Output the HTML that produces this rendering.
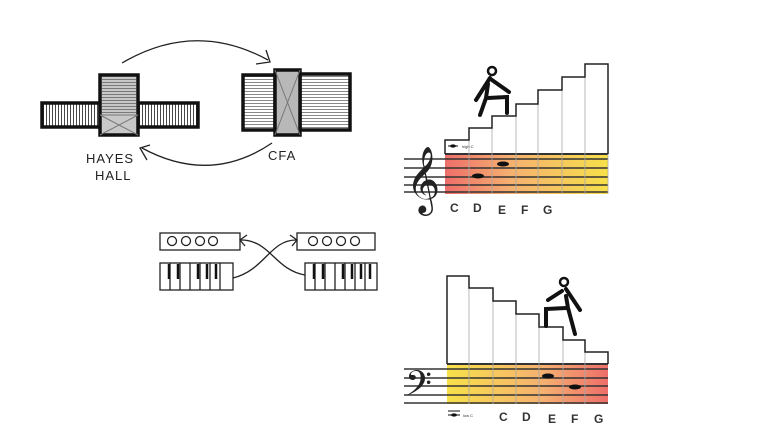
<!DOCTYPE html>
<html><head><style>html,body{margin:0;padding:0;background:#fff;}svg{display:block}</style></head><body>
<svg width="768" height="432" viewBox="0 0 768 432" xmlns="http://www.w3.org/2000/svg" font-family="Liberation Sans, sans-serif">
<defs>
<linearGradient id="g1" x1="0" x2="1" y1="0" y2="0"><stop offset="0" stop-color="#ee6e6a"/><stop offset="0.4" stop-color="#f5b070"/><stop offset="1" stop-color="#f7e04a"/></linearGradient>
<linearGradient id="g2" x1="0" x2="1" y1="0" y2="0"><stop offset="0" stop-color="#f7e04a"/><stop offset="0.6" stop-color="#f5b070"/><stop offset="1" stop-color="#ee6e6a"/></linearGradient>
<pattern id="hs" width="4" height="3" patternUnits="userSpaceOnUse"><line x1="0" y1="1.5" x2="4" y2="1.5" stroke="#555" stroke-width="0.7"/></pattern>
<pattern id="vs" width="3" height="4" patternUnits="userSpaceOnUse"><line x1="1.5" y1="0" x2="1.5" y2="4" stroke="#333" stroke-width="0.9"/></pattern>
</defs>
<g stroke="#111" stroke-width="3.5" fill="url(#vs)">
<rect x="42" y="103" width="58" height="24"/>
<rect x="138" y="103" width="60" height="24"/>
</g>
<rect x="100" y="75" width="38" height="60" fill="#c8c8c8" stroke="#111" stroke-width="3.5"/>
<rect x="102" y="77" width="34" height="38" fill="url(#hs)"/>
<path d="M100 115 L138 135 M138 115 L100 135 M100 115 H138" stroke="#777" stroke-width="1"/>
<g stroke="#111" stroke-width="3.5" fill="url(#hs)">
<rect x="243" y="75" width="32" height="55"/>
<rect x="300" y="74" width="50" height="56"/>
</g>
<rect x="275" y="70" width="25" height="65" fill="#b8b8b8" stroke="#111" stroke-width="3.5"/>
<path d="M275 70 L300 135 M300 70 L275 135" stroke="#777" stroke-width="1"/>
<path d="M122 63 Q195 20 268 60" fill="none" stroke="#222" stroke-width="1.3"/>
<path d="M256 64 L270 62 L266 50" fill="none" stroke="#222" stroke-width="1.3"/>
<path d="M272 143 Q210 185 142 148" fill="none" stroke="#222" stroke-width="1.3"/>
<path d="M150 145 L140 148 L147 160" fill="none" stroke="#222" stroke-width="1.3"/>
<g font-size="13" fill="#222" letter-spacing="1">
<text x="86" y="163">HAYES</text><text x="95" y="180">HALL</text><text x="268" y="160">CFA</text>
</g>
<g fill="none" stroke="#222" stroke-width="1.3">
<rect x="160" y="233" width="80" height="17"/>
<rect x="297" y="233" width="78" height="17"/>
<rect x="160" y="263" width="73" height="27"/>
<rect x="305" y="263" width="72" height="27"/>
<circle cx="172" cy="241" r="4.5"/><circle cx="186" cy="241" r="4.5"/><circle cx="200" cy="241" r="4.5"/><circle cx="213" cy="241" r="4.5"/>
<circle cx="313" cy="241" r="4.5"/><circle cx="327" cy="241" r="4.5"/><circle cx="341" cy="241" r="4.5"/><circle cx="355" cy="241" r="4.5"/>
<path d="M170 263V290M180 263V290M190 263V290M200 263V290M210 263V290M220 263V290"/>
<path d="M315 263V290M325 263V290M335 263V290M345 263V290M355 263V290M365 263V290"/>
<path d="M233 278 C265 270 270 240 296 240"/>
<path d="M305 275 C275 270 270 240 241 240"/>
<path d="M290 235 L297 240 L292 246 M247 235 L240 240 L245 246"/>
</g>
<g stroke="#111" stroke-width="2.5"><path d="M169 264V279M178 264V279M198 264V279M207 264V279M216 264V279M314 264V279M323 264V279M343 264V279M352 264V279M361 264V279M370 264V279"/></g>
<rect x="445" y="154" width="163" height="40" fill="url(#g1)"/>
<g stroke="#333" stroke-width="1.4">
<line x1="404" y1="159" x2="608" y2="159"/><line x1="404" y1="168" x2="608" y2="168"/><line x1="404" y1="177" x2="608" y2="177"/><line x1="404" y1="185" x2="608" y2="185"/><line x1="404" y1="192" x2="608" y2="192"/>
<line x1="445" y1="154" x2="608" y2="154" stroke-width="2"/>
</g>
<g stroke="#aaa" stroke-width="0.8"><path d="M469 128V194M492 116V194M516 104V194M538 90V194M562 77V194M585 64V194M608 64V194"/></g>
<path d="M445 154 V140 H469 V128 H492 V116 H516 V104 H538 V90 H562 V77 H585 V64 H608 V154" fill="none" stroke="#222" stroke-width="1.5"/>
<ellipse cx="478" cy="176" rx="6" ry="2.5" fill="#111"/><ellipse cx="503" cy="164" rx="6" ry="2.5" fill="#111"/>
<line x1="448" y1="146" x2="458" y2="146" stroke="#111"/><ellipse cx="453" cy="146" rx="3" ry="1.6" fill="#111"/>
<text x="462" y="148" font-size="4" fill="#333">high C</text>
<text x="406" y="199" font-size="58" fill="#222">𝄞</text>
<g font-size="12" font-weight="bold" fill="#333"><text x="450" y="212">C</text><text x="473" y="212">D</text><text x="498" y="214">E</text><text x="521" y="214">F</text><text x="543" y="214">G</text></g>
<g stroke="#111" stroke-width="4" stroke-linecap="round" fill="none">
<circle cx="492" cy="71" r="4" stroke-width="2.5"/>
<path d="M490 78 L476 100"/><path d="M492 80 L509 92"/><path d="M488 84 L486 98 L480 115"/><path d="M488 98 L507 97 L507 113"/>
</g>
<rect x="447" y="364" width="161" height="40" fill="url(#g2)"/>
<g stroke="#333" stroke-width="1.4">
<line x1="404" y1="369" x2="608" y2="369"/><line x1="404" y1="378" x2="608" y2="378"/><line x1="404" y1="386" x2="608" y2="386"/><line x1="404" y1="395" x2="608" y2="395"/><line x1="404" y1="403" x2="608" y2="403"/>
<line x1="447" y1="364" x2="608" y2="364" stroke-width="2"/>
</g>
<g stroke="#aaa" stroke-width="0.8"><path d="M469 288V404M493 301V404M516 314V404M539 327V404M563 340V404M585 352V404"/></g>
<path d="M447 364 V276 H469 V288 H493 V301 H516 V314 H539 V327 H563 V340 H585 V352 H608 V364" fill="none" stroke="#222" stroke-width="1.5"/>
<ellipse cx="548" cy="376" rx="6" ry="2.5" fill="#111"/><ellipse cx="575" cy="387" rx="6" ry="2.5" fill="#111"/>
<line x1="448" y1="411" x2="460" y2="411" stroke="#111"/><line x1="448" y1="415" x2="460" y2="415" stroke="#111"/><ellipse cx="454" cy="415" rx="3" ry="1.6" fill="#111"/>
<text x="463" y="417" font-size="4" fill="#333">low C</text>
<text x="405" y="402" font-size="42" fill="#222">𝄢</text>
<g font-size="12" font-weight="bold" fill="#333"><text x="499" y="421">C</text><text x="522" y="421">D</text><text x="548" y="423">E</text><text x="571" y="423">F</text><text x="594" y="423">G</text></g>
<g stroke="#111" stroke-width="4" stroke-linecap="round" fill="none">
<circle cx="564" cy="282" r="4" stroke-width="2.5"/>
<path d="M566 289 L580 310"/><path d="M562 291 L548 300"/><path d="M566 296 L568 308 L575 334"/><path d="M566 308 L546 309 L546 326"/>
</g>
</svg>
</body></html>
